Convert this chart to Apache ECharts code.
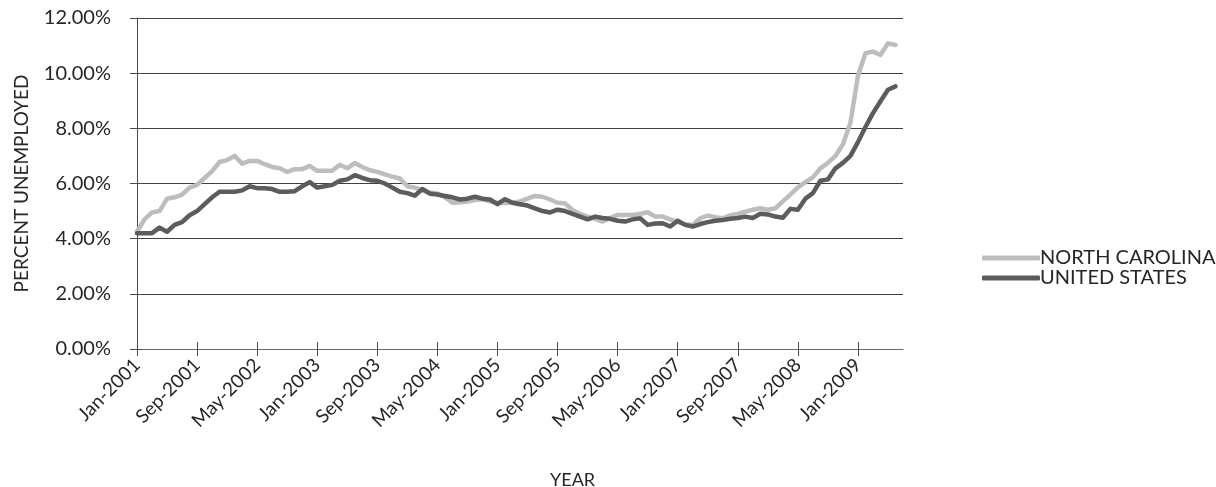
<!DOCTYPE html>
<html>
<head>
<meta charset="utf-8">
<title>Unemployment: North Carolina vs United States</title>
<script src="https://cdn.jsdelivr.net/npm/echarts@6/dist/echarts.min.js"></script>
<style>
  html, body { margin: 0; padding: 0; background: #ffffff; }
  #chart { width: 1216px; height: 487px; }
</style>
</head>
<body>
<div id="chart"></div>
<script>
// Monthly categories, Jan-2001 through Jul-2009
const MONTH_NAMES = ['Jan','Feb','Mar','Apr','May','Jun','Jul','Aug','Sep','Oct','Nov','Dec'];
const months = [];
for (let y = 2001; y <= 2009; y++) {
  for (let m = 0; m < 12; m++) {
    if (y === 2009 && m > 6) break;
    months.push(MONTH_NAMES[m] + '-' + y);
  }
}

// Unemployment rate, percent (Jan-2001 .. Jun-2009)
const northCarolina = [
  4.25, 4.7, 4.95, 5.0, 5.45, 5.5, 5.6, 5.85, 5.95, 6.2, 6.45, 6.78,
  6.85, 7.0, 6.72, 6.82, 6.82, 6.7, 6.6, 6.55, 6.42, 6.52, 6.52, 6.64,
  6.46, 6.46, 6.46, 6.68, 6.55, 6.74, 6.6, 6.48, 6.42, 6.33, 6.25, 6.18,
  5.9, 5.85, 5.75, 5.67, 5.64, 5.5, 5.3, 5.32, 5.35, 5.4, 5.43, 5.35,
  5.3, 5.29, 5.3, 5.35, 5.45, 5.55, 5.52, 5.42, 5.3, 5.28, 5.04, 4.9,
  4.8, 4.72, 4.62, 4.75, 4.86, 4.86, 4.86, 4.9, 4.96, 4.8, 4.8, 4.7,
  4.6, 4.52, 4.5, 4.74, 4.84, 4.78, 4.74, 4.85, 4.9, 4.98, 5.05, 5.1,
  5.05, 5.1, 5.35, 5.6, 5.86, 6.05, 6.22, 6.55, 6.75, 7.0, 7.42, 8.2,
  9.9, 10.72, 10.78, 10.66, 11.08, 11.02
];
const unitedStates = [
  4.2, 4.2, 4.2, 4.4, 4.25, 4.5, 4.6, 4.85, 5.0, 5.25, 5.5, 5.7,
  5.7, 5.7, 5.75, 5.9, 5.83, 5.83, 5.8, 5.7, 5.7, 5.72, 5.9, 6.05,
  5.85, 5.9, 5.95, 6.1, 6.15, 6.3, 6.2, 6.12, 6.1, 6.0, 5.85, 5.7,
  5.65, 5.56, 5.8, 5.63, 5.6, 5.55, 5.5, 5.42, 5.45, 5.52, 5.45, 5.42,
  5.25, 5.43, 5.3, 5.25, 5.2, 5.1, 5.0, 4.95, 5.05, 5.0, 4.9, 4.8,
  4.7, 4.8, 4.75, 4.72, 4.65, 4.62, 4.7, 4.74, 4.5, 4.55, 4.56, 4.44,
  4.65, 4.5, 4.44, 4.53, 4.6, 4.65, 4.68, 4.72, 4.75, 4.8, 4.75, 4.9,
  4.88, 4.8, 4.76, 5.08, 5.05, 5.45, 5.65, 6.1, 6.15, 6.55, 6.75, 7.0,
  7.5, 8.05, 8.55, 8.98, 9.4, 9.52
];

// Y axis ticks: 0% .. 12% every 2%
const yTicks = { min: 0, max: 12, step: 2 };

const FONT = 'Lato';
const TEXT = '#262626';

const chart = echarts.init(document.getElementById('chart'), null, { renderer: 'canvas' });

const labelEvery = 7; // one label every 8 months

chart.setOption({
  animation: false,
  backgroundColor: '#ffffff',
  textStyle: { fontFamily: FONT, color: TEXT },
  title: {
    text: 'YEAR',
    left: 545,
    top: 466,
    textStyle: { fontFamily: FONT, fontSize: 18, fontWeight: 'normal', color: TEXT }
  },
  legend: {
    orient: 'vertical',
    left: 977,
    top: 243,
    itemWidth: 58,
    itemHeight: 5,
    itemGap: 0,
    icon: 'roundRect',
    textStyle: { fontFamily: FONT, fontSize: 20, color: TEXT, padding: [0, 0, 0, -5] },
    data: ['NORTH CAROLINA', 'UNITED STATES']
  },
  grid: { left: 137, right: 313, top: 18, bottom: 138, containLabel: false },
  xAxis: [
    {
      type: 'category',
      data: months,
      boundaryGap: false,
      axisLine: { show: true, lineStyle: { color: '#6b6b6b', width: 1 } },
      axisTick: { show: true, interval: labelEvery, length: 7, lineStyle: { color: '#4a4a4a' } },
      axisLabel: {
        interval: labelEvery,
        rotate: 45,
        margin: 13,
        fontFamily: FONT,
        fontSize: 19,
        color: TEXT
      },
      splitLine: { show: false }
    },
    {
      type: 'category',
      data: months,
      boundaryGap: false,
      position: 'bottom',
      axisLine: { show: false },
      axisTick: { show: true, inside: true, interval: labelEvery, length: 7, lineStyle: { color: '#4a4a4a' } },
      axisLabel: { show: false },
      splitLine: { show: false }
    }
  ],
  yAxis: [
    {
      type: 'value',
      min: yTicks.min,
      max: yTicks.max,
      interval: yTicks.step,
      name: 'PERCENT UNEMPLOYED',
      nameLocation: 'middle',
      nameGap: 106,
      nameRotate: 90,
      nameTextStyle: { fontFamily: FONT, fontSize: 19, color: TEXT },
      axisLine: { show: true, lineStyle: { color: '#4a4a4a', width: 1 } },
      axisTick: { show: true, length: 7, lineStyle: { color: '#4a4a4a' } },
      axisLabel: {
        margin: 26,
        fontFamily: FONT,
        fontSize: 20,
        color: TEXT,
        formatter: v => v.toFixed(2) + '%'
      },
      splitLine: { show: true, lineStyle: { color: '#3f3f3f', width: 1 } }
    },
    {
      type: 'value',
      min: yTicks.min,
      max: yTicks.max,
      interval: yTicks.step,
      position: 'left',
      axisLine: { show: false },
      axisTick: { show: true, inside: true, length: 6, lineStyle: { color: '#4a4a4a' } },
      axisLabel: { show: false },
      splitLine: { show: false }
    }
  ],
  series: [
    {
      name: 'NORTH CAROLINA',
      type: 'line',
      data: northCarolina,
      showSymbol: false,
      symbol: 'none',
      lineStyle: { color: '#bdbdbd', width: 4.5, join: 'round', cap: 'round' },
      itemStyle: { color: '#bdbdbd' },
      z: 3
    },
    {
      name: 'UNITED STATES',
      type: 'line',
      data: unitedStates,
      showSymbol: false,
      symbol: 'none',
      lineStyle: { color: '#5c5c5c', width: 4.5, join: 'round', cap: 'round' },
      itemStyle: { color: '#5c5c5c' },
      z: 4
    }
  ]
});
</script>
</body>
</html>
